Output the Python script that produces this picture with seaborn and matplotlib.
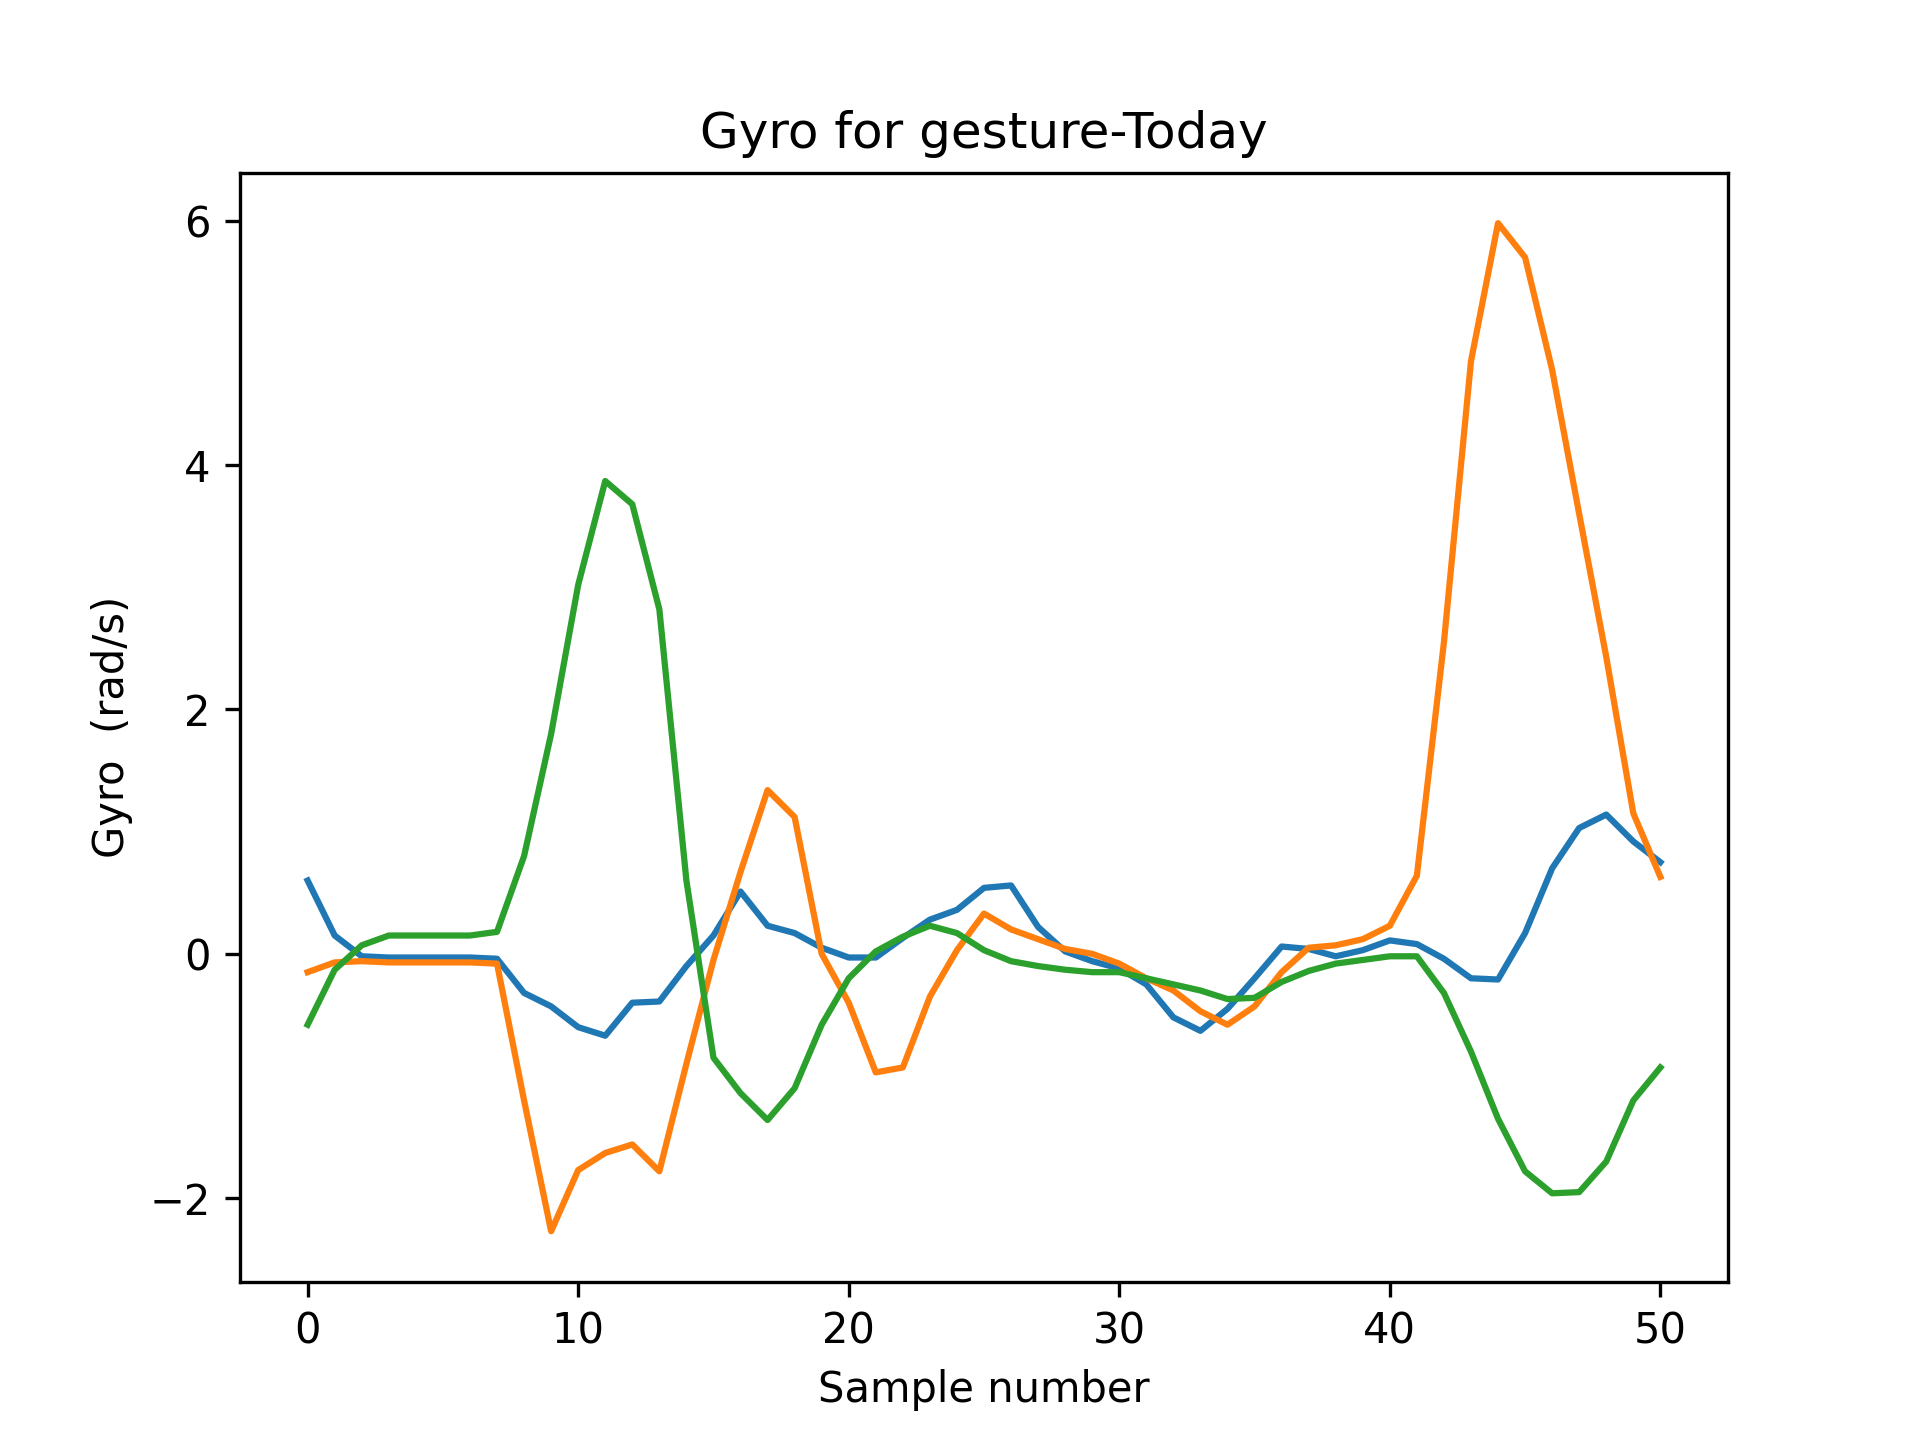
import numpy as np
import pandas as pd
import matplotlib
matplotlib.use("Agg")
import matplotlib.pyplot as plt
import seaborn as sns

samples = list(range(51))
gyro_x = [0.6, 0.15, -0.02, -0.03, -0.03, -0.03, -0.03, -0.04, -0.32, -0.43,
          -0.6, -0.67, -0.4, -0.39, -0.1, 0.15, 0.51, 0.23, 0.17, 0.05,
          -0.03, -0.03, 0.13, 0.28, 0.36, 0.54, 0.56, 0.22, 0.02, -0.06,
          -0.12, -0.25, -0.52, -0.63, -0.45, -0.2, 0.06, 0.04, -0.02, 0.03,
          0.11, 0.08, -0.04, -0.2, -0.21, 0.17, 0.7, 1.03, 1.14, 0.92, 0.75]
gyro_y = [-0.15, -0.07, -0.06, -0.07, -0.07, -0.07, -0.07, -0.08, -1.2, -2.27,
          -1.77, -1.63, -1.56, -1.78, -0.9, -0.05, 0.67, 1.34, 1.12, 0.0,
          -0.4, -0.97, -0.93, -0.35, 0.03, 0.33, 0.2, 0.12, 0.04, 0.0,
          -0.08, -0.2, -0.3, -0.47, -0.58, -0.43, -0.15, 0.05, 0.07, 0.12,
          0.23, 0.64, 2.55, 4.85, 5.98, 5.7, 4.78, 3.6, 2.43, 1.15, 0.63]
gyro_z = [-0.58, -0.13, 0.07, 0.15, 0.15, 0.15, 0.15, 0.18, 0.8, 1.8,
          3.02, 3.87, 3.68, 2.82, 0.6, -0.85, -1.14, -1.36, -1.1, -0.58,
          -0.2, 0.02, 0.14, 0.23, 0.17, 0.03, -0.06, -0.1, -0.13, -0.15,
          -0.15, -0.2, -0.25, -0.3, -0.37, -0.36, -0.23, -0.14, -0.08, -0.05,
          -0.02, -0.02, -0.32, -0.8, -1.35, -1.78, -1.96, -1.95, -1.7, -1.2, -0.93]

fig, ax = plt.subplots(figsize=(6.4, 4.8), dpi=300)
for vals, c in [(gyro_x, "#1f77b4"), (gyro_y, "#ff7f0e"), (gyro_z, "#2ca02c")]:
    sns.lineplot(x=samples, y=vals, color=c, ax=ax)
ax.set_title("Gyro for gesture-Today")
ax.set_xlabel("Sample number")
ax.set_ylabel("Gyro  (rad/s)")
fig.savefig("out.png")
